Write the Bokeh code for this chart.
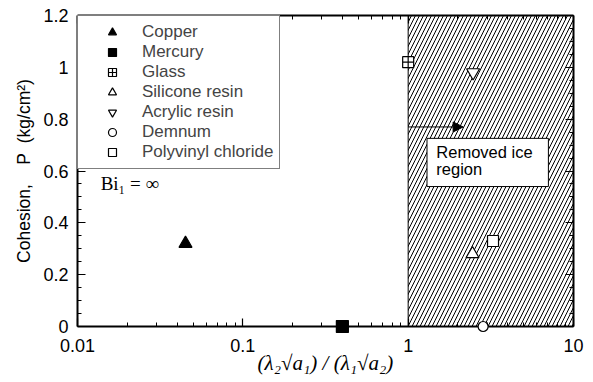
from bokeh.plotting import figure
from bokeh.models import (Range1d, FixedTicker, LogAxis, LinearAxis,
                          CustomJSTickFormatter, Legend, LegendItem, Arrow, NormalHead)
from bokeh.core.properties import value
from bokeh.embed import file_html
from bokeh.resources import INLINE

# ---- data ----
materials = ["Copper", "Mercury", "Glass", "Silicone resin", "Acrylic resin", "Demnum", "Polyvinyl chloride"]
x_ratio = [0.045, 0.40, 1.0, 2.45, 2.47, 2.84, 3.26]
cohesion = [0.32, 0.0, 1.02, 0.28, 0.98, 0.0, 0.33]

x_major = [0.01, 0.1, 1, 10]
y_major = [0, 0.2, 0.4, 0.6, 0.8, 1.0, 1.2]

# ---- styles ----
marker_types = ["triangle", "square", "square_cross", "triangle", "inverted_triangle", "circle", "square"]
marker_fill = ["black", "black", "white", "white", "white", "white", "white"]
marker_size = [13, 12, 11, 13, 13, 10, 11]

SANS = "Liberation Sans"
SERIF = "Liberation Serif"
NB = "\u00a0"

p = figure(width=593, height=382, x_axis_type="log",
           x_range=Range1d(0.01, 10), y_range=Range1d(0, 1.2),
           output_backend="svg", toolbar_location=None,
           min_border_left=77, min_border_right=20, min_border_top=15, min_border_bottom=56)
p.grid.visible = False
p.outline_line_color = None
p.background_fill_color = "white"

# removed ice region (hatched)
p.quad(left=[1], right=[10], bottom=[0], top=[1.2], fill_color=None, line_color="black",
       line_width=1, hatch_pattern="/", hatch_color="black", hatch_scale=8, hatch_weight=1)

# arrow
p.add_layout(Arrow(end=NormalHead(size=10, fill_color="black", line_color="black"),
                   x_start=1, y_start=0.77, x_end=2.15, y_end=0.77,
                   line_color="black", line_width=1))

# label box
p.quad(left=[1.30], right=[7.05], bottom=[0.54], top=[0.726], fill_color="white",
       line_color="black", line_width=1)
p.text(x=[1.48], y=[0.64], text=["Removed ice\nregion"], text_font=value(SANS),
       text_font_size="16.5px", text_baseline="middle", text_align="left", text_line_height=0.95)

# Bi label
p.text(x=[0.0138], y=[0.552], text=["Bi\u2081 = \u221e"], text_font=value(SERIF),
       text_font_size="19px", text_baseline="middle", text_align="left")

renderers = []
for i, name in enumerate(materials):
    r = p.scatter(x=[x_ratio[i]], y=[cohesion[i]], marker=marker_types[i], size=marker_size[i],
                  fill_color=marker_fill[i], line_color="black", line_width=1.2, level="overlay")
    renderers.append(r)

legend = Legend(items=[LegendItem(label=materials[i], renderers=[renderers[i]]) for i in range(len(materials))],
                location="top_left", margin=0, padding=6, spacing=0, label_height=20,
                glyph_height=20, glyph_width=56, label_standoff=2,
                border_line_color="black", border_line_width=1, background_fill_alpha=1,
                label_text_font=SANS, label_text_font_size="17px")
p.add_layout(legend)

# ---- axes ----
minor_x = [m * 10.0 ** e for e in (-2, -1, 0) for m in range(2, 10)]
minor_y = [k * 0.05 for k in range(25) if k % 4 != 0]
xticker = FixedTicker(ticks=x_major, minor_ticks=minor_x)
yticker = FixedTicker(ticks=y_major, minor_ticks=minor_y)

def style(ax):
    ax.axis_line_width = 2
    ax.axis_line_color = "black"
    ax.major_tick_in = 8
    ax.major_tick_out = 0
    ax.minor_tick_in = 4
    ax.minor_tick_out = 0
    ax.major_tick_line_color = "black"
    ax.minor_tick_line_color = "black"
    ax.major_tick_line_width = 1.2
    ax.minor_tick_line_width = 1
    ax.major_label_text_font = SANS
    ax.major_label_text_font_size = "18px"
    ax.major_label_text_color = "black"
    ax.axis_label_text_color = "black"

xa = p.xaxis[0]
xa.ticker = xticker
xa.formatter = CustomJSTickFormatter(code="return String(parseFloat(tick.toPrecision(2)));")
style(xa)
xa.major_label_standoff = 12
xa.axis_label = "(\u03bb\u2082\u221aa\u2081)" + NB + "/" + NB + "(\u03bb\u2081\u221aa\u2082)"
xa.axis_label_text_font = SERIF
xa.axis_label_text_font_style = "italic"
xa.axis_label_text_font_size = "21px"
xa.axis_label_standoff = -4

ya = p.yaxis[0]
ya.ticker = yticker
ya.formatter = CustomJSTickFormatter(code="return String(Math.round(tick*10)/10);")
style(ya)
ya.major_label_standoff = 9
ya.axis_label = "Cohesion," + NB * 4 + "P" + NB * 2 + "(kg/cm\u00b2)"
ya.axis_label_text_font = SANS
ya.axis_label_text_font_style = "normal"
ya.axis_label_text_font_size = "17.5px"
ya.axis_label_standoff = 6

blank = CustomJSTickFormatter(code="return '';")

top = LogAxis(ticker=xticker, formatter=blank)
style(top)
top.major_label_standoff = 0
p.add_layout(top, "above")

right = LinearAxis(ticker=yticker, formatter=blank)
style(right)
right.major_label_standoff = 0
p.add_layout(right, "right")

open("out.html", "w").write(file_html(p, INLINE))
